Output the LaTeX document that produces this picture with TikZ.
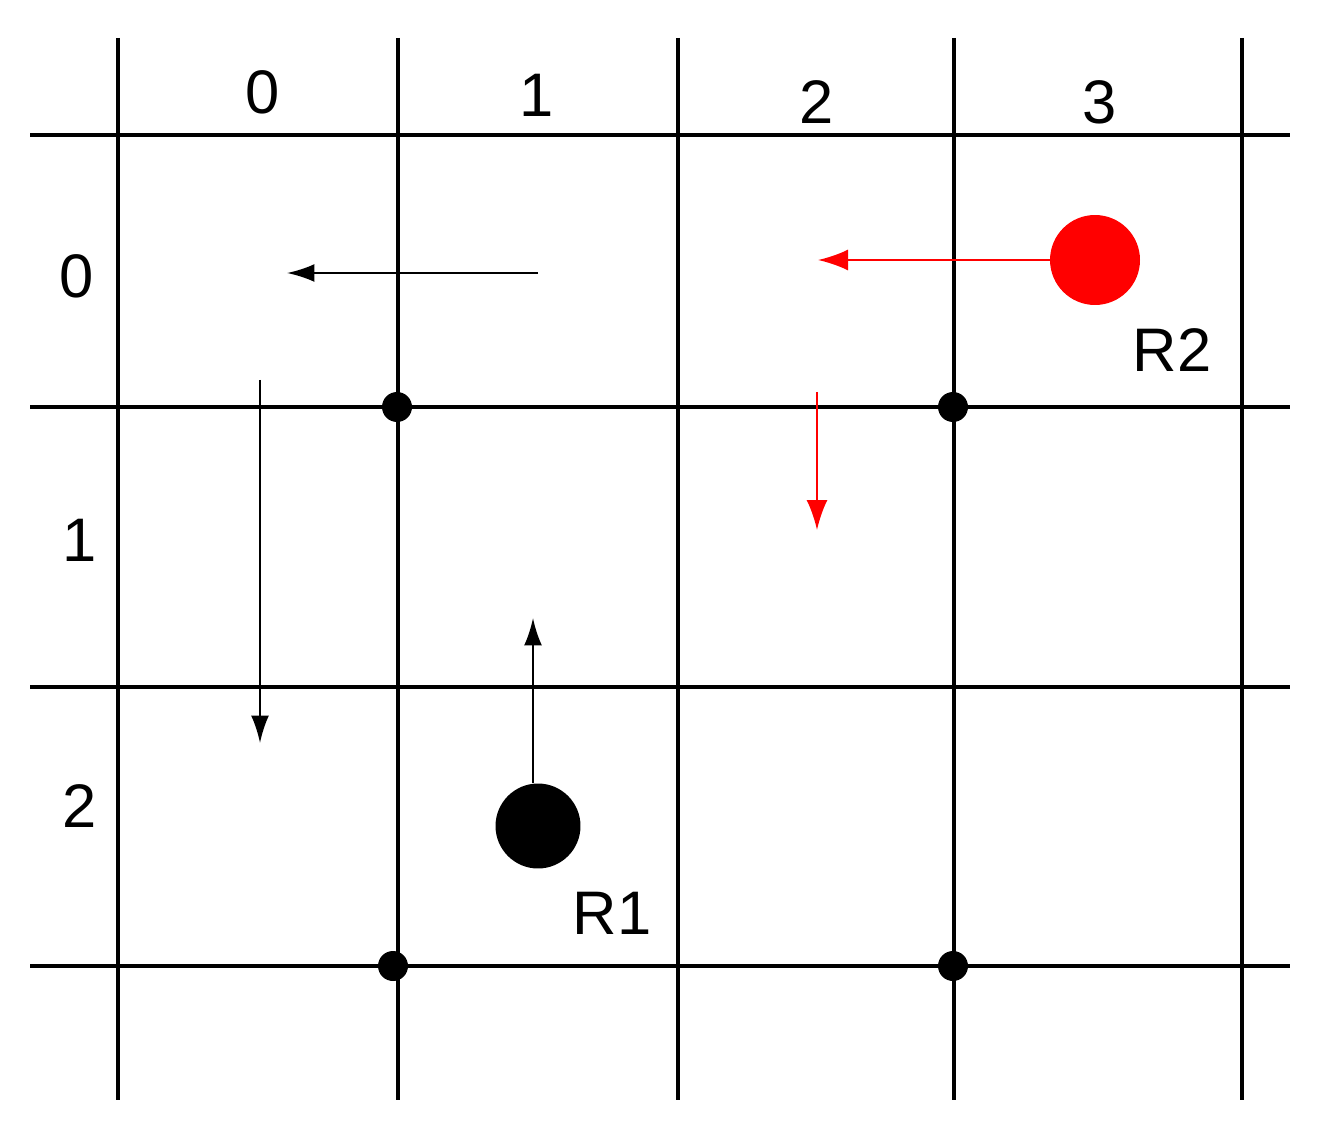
\documentclass[tikz,border=0pt]{standalone}
\usepackage{fontspec}
\setmainfont{Liberation Sans}
\usetikzlibrary{arrows.meta}
\usetikzlibrary{positioning}

\begin{document}
\begin{tikzpicture}[x=0.02cm, y=-0.02cm,
  grid/.style={line width=2pt},
  cross/.style={circle, fill=black, inner sep=0pt, minimum size=0.6cm},
  robot/.style={circle, inner sep=0pt, minimum size=1.7cm},
  move/.style={line width=1.3pt, -{Latex[length=0.55cm,width=0.36cm]}},
  redmove/.style={red, line width=1.3pt, -{Latex[length=0.6cm,width=0.42cm]}},
  num/.style={font=\fontsize{35}{40}\selectfont}]
  \useasboundingbox (0,0) rectangle (1328,1131);

  % grid
  \foreach \x in {118,398,678,954,1242}
    \draw[grid] (\x,38) -- (\x,1100);
  \foreach \y in {135,407,687,966}
    \draw[grid] (30,\y) -- (1290,\y);

  \node[num] (col0) at (263,92) {0};
  \node[num] (col1) at (537,95) {1};
  \node[num] (col2) at (817,102) {2};
  \node[num] (col3) at (1100,102) {3};
  \node[num] (row0) at (77,276) {0};
  \node[num] (row1) at (80,540) {1};
  \node[num] (row2) at (80,806) {2};

  \node[cross] (c1) at (397,407) {};
  \node[cross] (c2) at (953,407) {};
  \node[cross] (c3) at (393,966) {};
  \node[cross] (c4) at (953,966) {};

  % robots
  \node[robot, fill=black] (R1) at (538,826) {};
  \node[num] (R1label) at (612,913) {R1};
  \node[robot, fill=red, minimum size=1.8cm] (R2) at (1095,260) {};
  \node[num] (R2label) at (1172,350) {R2};

  \coordinate (a1s) at (538,273);
  \coordinate (a1e) at (287,273);
  \coordinate (a2s) at (260,380);
  \coordinate (a2e) at (260,743);
  \coordinate (r1up) at (533,618);
  \coordinate (r2left) at (818,260);
  \coordinate (a3s) at (817,392);
  \coordinate (a3e) at (817,530);

  \draw[move] (a1s) -- (a1e);
  \draw[move] (a2s) -- (a2e);
  \draw[move] (R1.north -| r1up) -- (r1up);
  \draw[redmove] (R2) -- (r2left);
  \draw[redmove] (a3s) -- (a3e);
\end{tikzpicture}
\end{document}
